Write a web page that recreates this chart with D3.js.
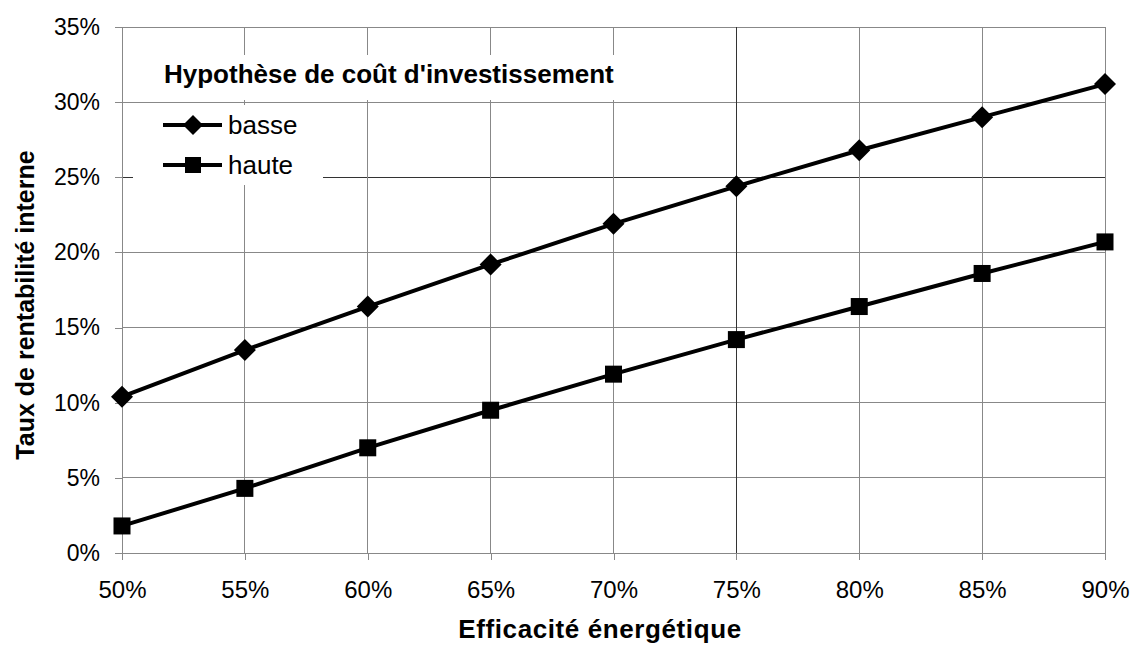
<!DOCTYPE html>
<html><head><meta charset="utf-8">
<script src="https://cdn.jsdelivr.net/npm/d3@7"></script>
<style>body{margin:0;background:#fff}svg{display:block;font-family:"Liberation Sans",Arial,sans-serif}</style>
</head><body><svg id="c" width="1131" height="646"></svg>
<script>
const efficiency = [0.50,0.55,0.60,0.65,0.70,0.75,0.80,0.85,0.90];
const basse = [0.104,0.135,0.164,0.192,0.219,0.244,0.268,0.290,0.312];
const haute = [0.018,0.043,0.070,0.095,0.119,0.142,0.164,0.186,0.207];
const yTicks = [0,0.05,0.10,0.15,0.20,0.25,0.30,0.35];
const seriesNames = ["basse","haute"];
const legendTitle = "Hypothèse de coût d'investissement";
const xTitle = "Efficacité énergétique";
const yTitle = "Taux de rentabilité interne";

const svg = d3.select("#c");
const L=122,R=1105,T=27,B=553;
const x = d3.scaleLinear().domain([0.5,0.9]).range([L,R]);
const y = d3.scaleLinear().domain([0,0.35]).range([B,T]);
const pct = d => Math.round(d*100)+"%";

// gridlines
const g = svg.append("g");
g.selectAll(".hg").data(yTicks).join("line")
  .attr("x1",L).attr("x2",R).attr("y1",d=>y(d)).attr("y2",d=>y(d))
  .attr("stroke",d=>Math.abs(d-0.25)<1e-9?"#333":"#888").attr("stroke-width",1).attr("shape-rendering","crispEdges");
g.selectAll(".vg").data(efficiency).join("line")
  .attr("y1",T).attr("y2",B).attr("x1",d=>x(d)).attr("x2",d=>x(d))
  .attr("stroke",d=>Math.abs(d-0.75)<1e-9?"#333":"#888").attr("stroke-width",1).attr("shape-rendering","crispEdges");

// axes
const ya = svg.append("g").attr("transform",`translate(${L},0)`)
  .call(d3.axisLeft(y).tickValues(yTicks).tickFormat(pct).tickSize(7).tickPadding(15));
const xa = svg.append("g").attr("transform",`translate(0,${B})`)
  .call(d3.axisBottom(x).tickValues(efficiency).tickFormat(pct).tickSize(7).tickPadding(18));
[ya,xa].forEach(a=>{
  a.selectAll("path,line").attr("stroke","#888").attr("shape-rendering","crispEdges");
  a.selectAll("text").attr("fill","#000").attr("font-family","Liberation Sans, Arial, sans-serif");
});
ya.selectAll("text").attr("font-size",23);
xa.selectAll("text").attr("font-size",24).attr("dy",null).attr("y",null)
  .attr("transform","translate(0,45)");

// legend boxes (white, hide gridlines)
svg.append("rect").attr("x",150).attr("y",55).attr("width",475).attr("height",45).attr("fill","#fff");
svg.append("rect").attr("x",133).attr("y",105).attr("width",190).attr("height",80).attr("fill","#fff");

// lines
const line = d3.line().x((d,i)=>x(efficiency[i])).y(d=>y(d));
[basse,haute].forEach(s=>{
  svg.append("path").datum(s).attr("d",line).attr("fill","none").attr("stroke","#000").attr("stroke-width",4);
});
const diamond = (cx,cy,r)=>`M${cx},${cy-r}L${cx+r},${cy}L${cx},${cy+r}L${cx-r},${cy}Z`;
svg.append("g").selectAll("path").data(basse).join("path")
  .attr("d",(d,i)=>diamond(x(efficiency[i]),y(d),11)).attr("fill","#000");
svg.append("g").selectAll("rect").data(haute).join("rect")
  .attr("x",(d,i)=>x(efficiency[i])-8.5).attr("y",d=>y(d)-8.5).attr("width",17).attr("height",17).attr("fill","#000");

// legend
svg.append("text").attr("x",164).attr("y",83).attr("font-size",26).attr("font-weight","bold").text(legendTitle);
const ly=[125,165];
seriesNames.forEach((n,k)=>{
  svg.append("line").attr("x1",163).attr("x2",222).attr("y1",ly[k]).attr("y2",ly[k]).attr("stroke","#000").attr("stroke-width",4);
  if(k===0) svg.append("path").attr("d",diamond(193,ly[k],10)).attr("fill","#000");
  else svg.append("rect").attr("x",185).attr("y",ly[k]-8).attr("width",16).attr("height",16).attr("fill","#000");
  svg.append("text").attr("x",228).attr("y",ly[k]+9).attr("font-size",26).text(n);
});

// axis titles
svg.append("text").attr("x",600).attr("y",638).attr("text-anchor","middle").attr("font-size",26).attr("letter-spacing",0.6).attr("font-weight","bold").text(xTitle);
svg.append("text").attr("transform","translate(34,305) rotate(-90)").attr("text-anchor","middle").attr("font-size",25).attr("font-weight","bold").text(yTitle);
</script></body></html>
